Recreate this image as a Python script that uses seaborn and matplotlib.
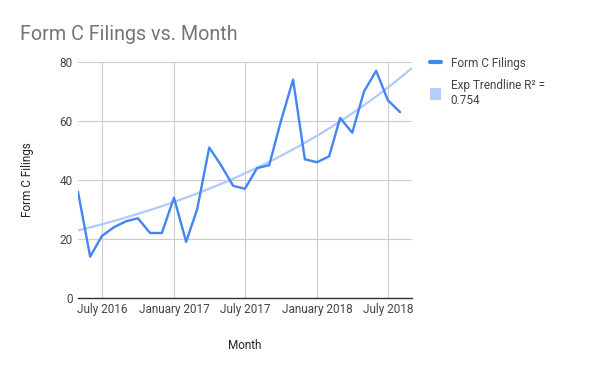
import numpy as np
import pandas as pd
import matplotlib
matplotlib.use("Agg")
import matplotlib.pyplot as plt
import matplotlib.dates as mdates
from matplotlib.lines import Line2D
from matplotlib.patches import Patch
import seaborn as sns

# monthly Form C filings, May 2016 - Aug 2018
months = pd.date_range("2016-05-01", "2018-08-01", freq="MS")
filings = [36, 14, 21, 24, 26, 27, 22, 22, 34, 19, 30, 51, 45, 38,
           37, 44, 45, 60, 74, 47, 46, 48, 61, 56, 70, 77, 67, 63]
tick_dates = ["2016-07-01", "2017-01-01", "2017-07-01", "2018-01-01", "2018-07-01"]
tick_labels = ["July 2016", "January 2017", "July 2017", "January 2018", "July 2018"]
y_ticks = [0, 20, 40, 60, 80]
r2_text = "0.754"

df = pd.DataFrame({"Month": months, "Form C Filings": filings})

# exponential trendline fitted on log values
x_num = mdates.date2num(df["Month"])
y_arr = np.array(filings, dtype=float)
b, a = np.polyfit(x_num, np.log(y_arr), 1, w=np.sqrt(y_arr))
x_end = mdates.date2num(pd.Timestamp("2018-09-01"))
trend_x = np.linspace(x_num[0], x_end, 200)
trend = pd.DataFrame({"Month": mdates.num2date(trend_x),
                      "trend": np.exp(a + b * trend_x)})

sns.set_style("white")
plt.rcParams["font.family"] = ["Roboto", "DejaVu Sans"]

fig = plt.figure(figsize=(6, 3.71), dpi=100)
ax = fig.add_axes([0.13, 0.197, 0.557, 0.636])

sns.lineplot(data=trend, x="Month", y="trend", ax=ax, color="#aecbfa", lw=1.6)
sns.lineplot(data=df, x="Month", y="Form C Filings", ax=ax, color="#4285f4", lw=1.7)

ax.set_xlim(x_num[0], x_end)
ax.set_ylim(0, 80)
ax.set_yticks(y_ticks)
ax.set_xticks(mdates.date2num(pd.to_datetime(tick_dates)))
ax.set_xticklabels(tick_labels)
ax.grid(True, color="#cccccc", lw=0.8)
ax.tick_params(axis="both", length=0, labelsize=8.5, colors="#444444", pad=4)
for s in ["top", "right", "left"]:
    ax.spines[s].set_visible(False)
ax.spines["bottom"].set_color("#333333")
ax.spines["bottom"].set_linewidth(1)

ax.set_xlabel("Month", fontsize=8.5, color="#222222", labelpad=16)
ax.set_ylabel("Form C Filings", fontsize=8.5, color="#222222", labelpad=18)

fig.text(0.033, 0.893, "Form C Filings vs. Month", fontsize=14.2, color="#757575")

handles = [Line2D([0], [0], color="#4285f4", lw=3),
           Patch(facecolor="#b6cffa", edgecolor="none")]
ax.legend(handles, ["Form C Filings", "Exp Trendline R² =\n" + r2_text],
          loc="upper left", bbox_to_anchor=(1.02, 1.065), frameon=False,
          fontsize=8.5, labelcolor="#444444", handlelength=1.0,
          handleheight=1.2, labelspacing=0.7, handletextpad=0.8)

fig.savefig("out.png", dpi=100)
